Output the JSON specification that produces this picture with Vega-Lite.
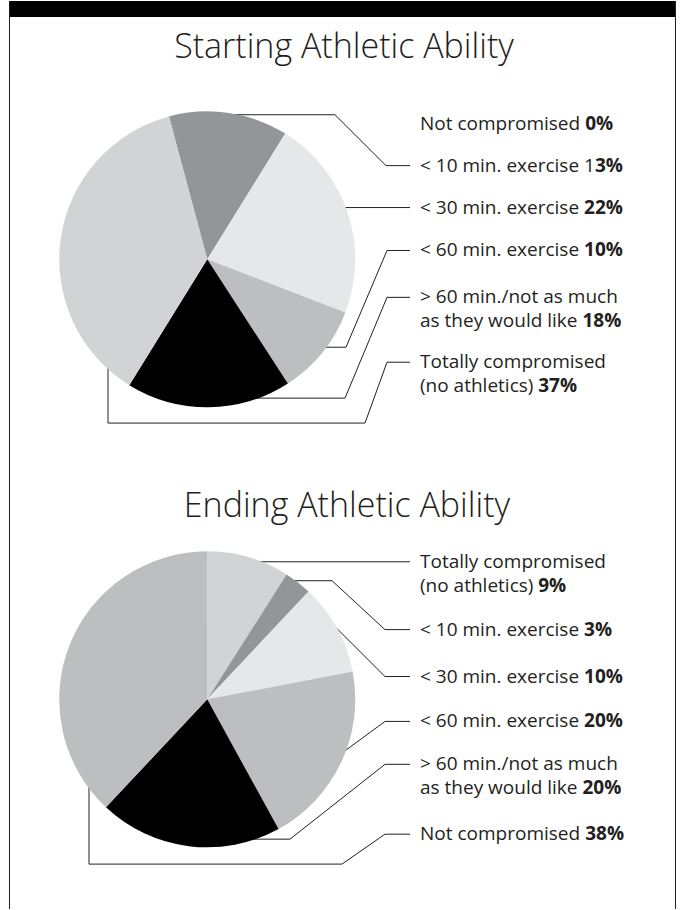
{
  "$schema": "https://vega.github.io/schema/vega-lite/v6.json",
  "width": 681,
  "height": 910,
  "autosize": {"type": "fit", "contains": "padding"},
  "padding": 0,
  "background": "white",
  "config": {"view": {"stroke": null}, "font": "Open Sans"},
  "datasets": {
    "start": [
      {"cat": "< 10 min. exercise", "share": 13, "seq": 1},
      {"cat": "< 30 min. exercise", "share": 22, "seq": 2},
      {"cat": "< 60 min. exercise", "share": 10, "seq": 3},
      {"cat": "> 60 min./not as much as they would like", "share": 18, "seq": 4},
      {"cat": "Totally compromised (no athletics)", "share": 37, "seq": 5},
      {"cat": "Not compromised", "share": 0, "seq": 6}
    ],
    "end": [
      {"cat": "Totally compromised (no athletics)", "share": 9, "seq": 1},
      {"cat": "< 10 min. exercise", "share": 3, "seq": 2},
      {"cat": "< 30 min. exercise", "share": 10, "seq": 3},
      {"cat": "< 60 min. exercise", "share": 20, "seq": 4},
      {"cat": "> 60 min./not as much as they would like", "share": 20, "seq": 5},
      {"cat": "Not compromised", "share": 38, "seq": 6}
    ],
    "leaders": [
      {"lid": "s10", "step": 1, "u": 0.1401, "v": 0.9796},
      {"lid": "s10", "step": 2, "u": 0.8629, "v": 0.9796},
      {"lid": "s10", "step": 3, "u": 1.2074, "v": 0.6349},
      {"lid": "s10", "step": 4, "u": 1.3695, "v": 0.6349},
      {"lid": "s30", "step": 1, "u": 0.8629, "v": 0.351},
      {"lid": "s30", "step": 2, "u": 1.3695, "v": 0.351},
      {"lid": "s60", "step": 1, "u": 0.7616, "v": -0.5951},
      {"lid": "s60", "step": 2, "u": 0.9372, "v": -0.5951},
      {"lid": "s60", "step": 3, "u": 1.2142, "v": 0.0604},
      {"lid": "s60", "step": 4, "u": 1.3695, "v": 0.0604},
      {"lid": "s60p", "step": 1, "u": 0.2887, "v": -0.9398},
      {"lid": "s60p", "step": 2, "u": 0.9304, "v": -0.9398},
      {"lid": "s60p", "step": 3, "u": 1.2142, "v": -0.2572},
      {"lid": "s60p", "step": 4, "u": 1.3695, "v": -0.2572},
      {"lid": "stot", "step": 1, "u": -0.6705, "v": -0.5478},
      {"lid": "stot", "step": 2, "u": -0.6705, "v": -1.1087},
      {"lid": "stot", "step": 3, "u": 1.0655, "v": -1.1087},
      {"lid": "stot", "step": 4, "u": 1.2142, "v": -0.6965},
      {"lid": "stot", "step": 5, "u": 1.3695, "v": -0.6965},
      {"lid": "etot", "step": 1, "u": 0.3225, "v": -2.0482},
      {"lid": "etot", "step": 2, "u": 1.3695, "v": -2.0482},
      {"lid": "e10", "step": 1, "u": 0.5589, "v": -2.1766},
      {"lid": "e10", "step": 2, "u": 0.8426, "v": -2.1766},
      {"lid": "e10", "step": 3, "u": 1.2006, "v": -2.5077},
      {"lid": "e10", "step": 4, "u": 1.3695, "v": -2.5077},
      {"lid": "e30", "step": 1, "u": 0.8021, "v": -2.4266},
      {"lid": "e30", "step": 2, "u": 1.2006, "v": -2.8254},
      {"lid": "e30", "step": 3, "u": 1.3695, "v": -2.8254},
      {"lid": "e60", "step": 1, "u": 0.8831, "v": -3.3633},
      {"lid": "e60", "step": 2, "u": 1.2006, "v": -3.1295},
      {"lid": "e60", "step": 3, "u": 1.3695, "v": -3.1295},
      {"lid": "e60p", "step": 1, "u": 0.2212, "v": -3.9269},
      {"lid": "e60p", "step": 2, "u": 0.5589, "v": -3.9269},
      {"lid": "e60p", "step": 3, "u": 1.2006, "v": -3.4201},
      {"lid": "e60p", "step": 4, "u": 1.3695, "v": -3.4201},
      {"lid": "enot", "step": 1, "u": -0.7988, "v": -3.4539},
      {"lid": "enot", "step": 2, "u": -0.7988, "v": -4.0959},
      {"lid": "enot", "step": 3, "u": 0.9101, "v": -4.0959},
      {"lid": "enot", "step": 4, "u": 1.2006, "v": -3.8932},
      {"lid": "enot", "step": 5, "u": 1.3695, "v": -3.8932}
    ],
    "labels": [
      {"lead": "Not compromised", "pct": "0%", "v": 0.9187, "pu": 2.5529},
      {"lead": "< 10 min. exercise 1", "pct": "3%", "v": 0.6349, "pu": 2.6191},
      {"lead": "< 30 min. exercise", "pct": "22%", "v": 0.351, "pu": 2.5455},
      {"lead": "< 60 min. exercise", "pct": "10%", "v": 0.0604, "pu": 2.5455},
      {"lead": "> 60 min./not as much", "v": -0.2572},
      {"lead": "as they would like", "pct": "18%", "v": -0.4194, "pu": 2.5347},
      {"lead": "Totally compromised", "v": -0.6965},
      {"lead": "(no athletics)", "pct": "37%", "v": -0.8587, "pu": 2.2354},
      {"lead": "Totally compromised", "v": -2.0482},
      {"lead": "(no athletics)", "pct": "9%", "v": -2.2104, "pu": 2.2354},
      {"lead": "< 10 min. exercise", "pct": "3%", "v": -2.5077, "pu": 2.5455},
      {"lead": "< 30 min. exercise", "pct": "10%", "v": -2.8254, "pu": 2.5455},
      {"lead": "< 60 min. exercise", "pct": "20%", "v": -3.1295, "pu": 2.5455},
      {"lead": "> 60 min./not as much", "v": -3.4201},
      {"lead": "as they would like", "pct": "20%", "v": -3.5823, "pu": 2.5347},
      {"lead": "Not compromised", "pct": "38%", "v": -3.8932, "pu": 2.5529}
    ]
  },
  "layer": [
    {
      "data": {"values": [{}]},
      "mark": {"type": "rect", "color": "#000000"},
      "encoding": {
        "x": {"datum": -1.33583, "type": "quantitative", "scale": {"domain": [-1.4, 3.2], "nice": false, "zero": false}, "axis": null},
        "x2": {"datum": 3.16283},
        "y": {"datum": 1.75, "type": "quantitative", "scale": {"domain": [-4.4, 1.75], "nice": false, "zero": false}, "axis": null},
        "y2": {"datum": 1.6419}
      }
    },
    {
      "data": {"values": [{}]},
      "mark": {"type": "rule", "stroke": "#231f20", "strokeWidth": 1},
      "encoding": {
        "x": {"datum": -1.33583, "type": "quantitative", "scale": {"domain": [-1.4, 3.2], "nice": false, "zero": false}, "axis": null},
        "y": {"datum": 1.75, "type": "quantitative", "scale": {"domain": [-4.4, 1.75], "nice": false, "zero": false}, "axis": null},
        "y2": {"datum": -4.4}
      }
    },
    {
      "data": {"values": [{}]},
      "mark": {"type": "rule", "stroke": "#231f20", "strokeWidth": 1},
      "encoding": {
        "x": {"datum": 3.16283, "type": "quantitative", "scale": {"domain": [-1.4, 3.2], "nice": false, "zero": false}, "axis": null},
        "y": {"datum": 1.75, "type": "quantitative", "scale": {"domain": [-4.4, 1.75], "nice": false, "zero": false}, "axis": null},
        "y2": {"datum": -4.4}
      }
    },
    {
      "data": {"name": "leaders"},
      "mark": {"type": "line", "stroke": "#231f20", "strokeWidth": 1, "interpolate": "linear"},
      "encoding": {
        "x": {"field": "u", "type": "quantitative", "scale": {"domain": [-1.4, 3.2], "nice": false, "zero": false}, "axis": null},
        "y": {"field": "v", "type": "quantitative", "scale": {"domain": [-4.4, 1.75], "nice": false, "zero": false}, "axis": null},
        "detail": {"field": "lid"},
        "order": {"field": "step", "type": "quantitative"}
      }
    },
    {
      "data": {"name": "start"},
      "mark": {"type": "arc", "outerRadius": 148, "stroke": null},
      "encoding": {
        "x": {"datum": 0, "type": "quantitative", "scale": {"domain": [-1.4, 3.2], "nice": false, "zero": false}, "axis": null},
        "y": {"datum": 0, "type": "quantitative", "scale": {"domain": [-4.4, 1.75], "nice": false, "zero": false}, "axis": null},
        "theta": {"field": "share", "type": "quantitative", "stack": true, "scale": {"range": [-0.261799, 6.021386]}},
        "order": {"field": "seq", "type": "quantitative"},
        "color": {
          "field": "cat", "type": "nominal", "legend": null,
          "scale": {
            "domain": ["Not compromised", "< 10 min. exercise", "< 30 min. exercise", "< 60 min. exercise", "> 60 min./not as much as they would like", "Totally compromised (no athletics)"],
            "range": ["#bcbec0", "#939598", "#e6e7e8", "#bcbec0", "#000000", "#d1d3d4"]
          }
        }
      }
    },
    {
      "data": {"name": "end"},
      "mark": {"type": "arc", "outerRadius": 148, "stroke": null},
      "encoding": {
        "x": {"datum": 0, "type": "quantitative", "scale": {"domain": [-1.4, 3.2], "nice": false, "zero": false}, "axis": null},
        "y": {"datum": -2.98, "type": "quantitative", "scale": {"domain": [-4.4, 1.75], "nice": false, "zero": false}, "axis": null},
        "theta": {"field": "share", "type": "quantitative", "stack": true, "scale": {"range": [0, 6.283185]}},
        "order": {"field": "seq", "type": "quantitative"},
        "color": {"field": "cat", "type": "nominal", "legend": null}
      }
    },
    {
      "data": {"name": "labels"},
      "mark": {"type": "text", "align": "left", "baseline": "middle", "font": "Open Sans", "fontSize": 19, "color": "#231f20"},
      "encoding": {
        "x": {"datum": 1.437, "type": "quantitative", "scale": {"domain": [-1.4, 3.2], "nice": false, "zero": false}, "axis": null},
        "y": {"field": "v", "type": "quantitative", "scale": {"domain": [-4.4, 1.75], "nice": false, "zero": false}, "axis": null},
        "text": {"field": "lead"}
      }
    },
    {
      "data": {"name": "labels"},
      "transform": [{"filter": "isValid(datum.pct)"}],
      "mark": {"type": "text", "align": "left", "baseline": "middle", "font": "Open Sans", "fontSize": 19, "fontWeight": "bold", "color": "#231f20"},
      "encoding": {
        "x": {"field": "pu", "type": "quantitative", "scale": {"domain": [-1.4, 3.2], "nice": false, "zero": false}, "axis": null},
        "y": {"field": "v", "type": "quantitative", "scale": {"domain": [-4.4, 1.75], "nice": false, "zero": false}, "axis": null},
        "text": {"field": "pct"}
      }
    },
    {
      "data": {"values": [{}]},
      "mark": {"type": "text", "text": "Starting Athletic Ability", "align": "center", "baseline": "alphabetic", "font": "Open Sans", "fontSize": 34, "fontWeight": 300, "color": "#231f20"},
      "encoding": {
        "x": {"datum": 0.9237, "type": "quantitative", "scale": {"domain": [-1.4, 3.2], "nice": false, "zero": false}, "axis": null},
        "y": {"datum": 1.3648, "type": "quantitative", "scale": {"domain": [-4.4, 1.75], "nice": false, "zero": false}, "axis": null}
      }
    },
    {
      "data": {"values": [{}]},
      "mark": {"type": "text", "text": "Ending Athletic Ability", "align": "center", "baseline": "alphabetic", "font": "Open Sans", "fontSize": 34, "fontWeight": 300, "color": "#231f20"},
      "encoding": {
        "x": {"datum": 0.9439, "type": "quantitative", "scale": {"domain": [-1.4, 3.2], "nice": false, "zero": false}, "axis": null},
        "y": {"datum": -1.744, "type": "quantitative", "scale": {"domain": [-4.4, 1.75], "nice": false, "zero": false}, "axis": null}
      }
    }
  ],
  "resolve": {"scale": {"theta": "independent"}}
}
